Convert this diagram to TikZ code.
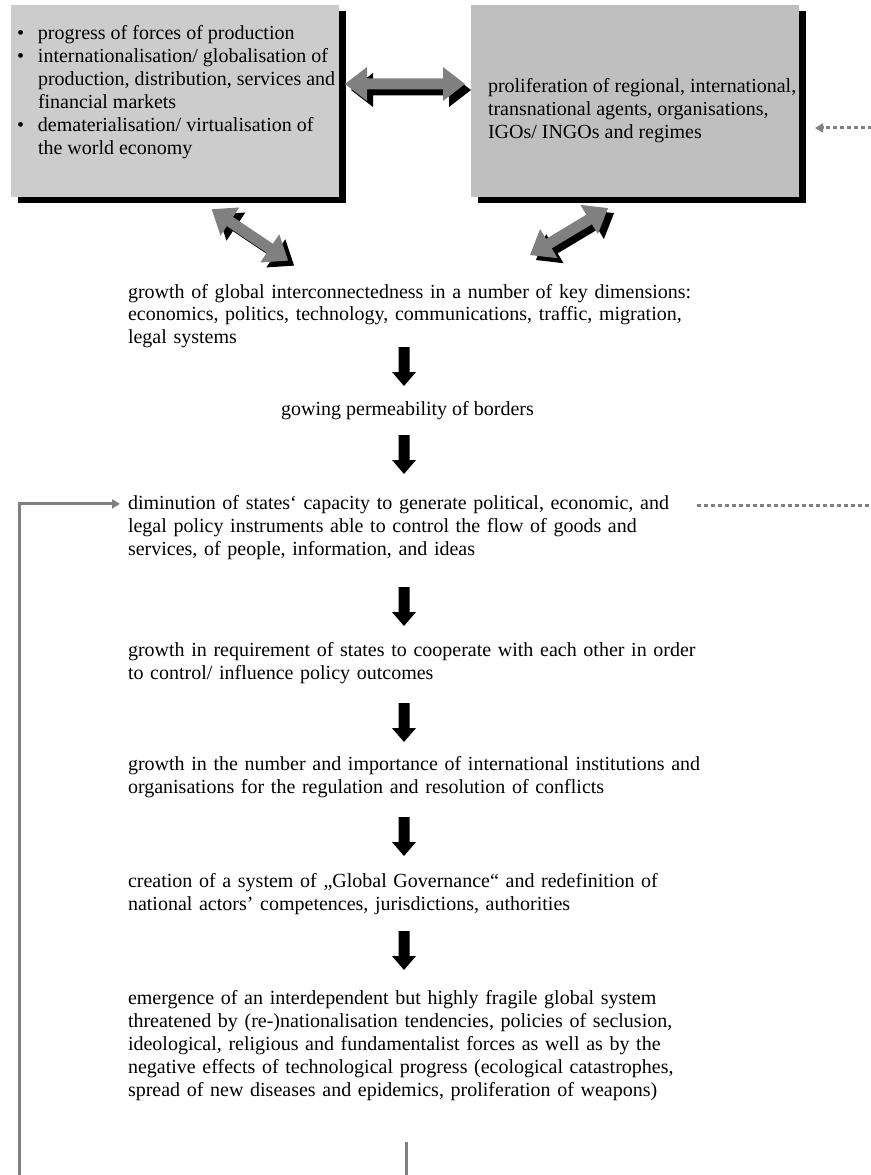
\documentclass[tikz,border=0pt]{standalone}
\usepackage{fontspec}
\setmainfont{Liberation Serif}
\usetikzlibrary{arrows.meta,calc}
\definecolor{panelA}{HTML}{CCCCCC}
\definecolor{panelB}{HTML}{BFBFBF}
\definecolor{linkgray}{HTML}{808080}
% one justified line of a paragraph block
\newcommand{\fullline}[1]{\makebox[335.4pt][s]{#1}}
\begin{document}
\begin{tikzpicture}[x=0.6pt,y=-0.6pt,
  every node/.style={inner sep=0pt,outer sep=0pt},
  txt/.style={font=\fontsize{12pt}{13.8pt}\selectfont,align=left,anchor=north west},
  para/.style={txt,text width=335.4pt},
  panel/.style={anchor=north west,minimum width=196.8pt,minimum height=115.2pt},
  loopline/.style={draw=linkgray,line width=1.8pt},
  dotline/.style={draw=linkgray,line width=1.8pt,dash pattern=on 2.4pt off 1.8pt},
  pics/dblarrow/.style={code={
    \path[pic actions] (0,0) -- (22,-17) -- (22,-5.5) -- (#1-22,-5.5) -- (#1-22,-17)
      -- (#1,0) -- (#1-22,17) -- (#1-22,5.5) -- (22,5.5) -- (22,17) -- cycle;}},
  pics/dnarrow/.style={code={
    \fill[black] (-5.5,0) -- (5.5,0) -- (5.5,25) -- (12,25) -- (0,39) -- (-12,25) -- (-5.5,25) -- cycle;}}
]
\useasboundingbox (0,0) rectangle (871,1175);

% --- the two panels with their drop shadows
\node[panel,fill=black] (p1s) at (18,11) {};
\node[panel,fill=panelA] (p1) at (11,5) {};
\node[panel,fill=black] (p2s) at (478,11) {};
\node[panel,fill=panelB] (p2) at (471,5) {};

\node[txt] (p1txt) at (17,23.9) {\strut\makebox[12.6pt][l]{•}progress of forces of production\\
\makebox[12.6pt][l]{•}internationalisation/ globalisation of\\
\makebox[12.6pt]{}production, distribution, services and\\
\makebox[12.6pt]{}financial markets\\
\makebox[12.6pt][l]{•}dematerialisation/ virtualisation of\\
\makebox[12.6pt]{}the world economy\strut};

\node[txt] (p2txt) at (488,76.9) {\strut proliferation of regional, international,\\
transnational agents, organisations,\\
IGOs/ INGOs and regimes\strut};

% --- block arrows between the panels and the first statement
\pic[fill=black] at ($(p1.east)+(12,-11)$) {dblarrow=120};
\pic[fill=linkgray] at ($(p1.east)+(6,-17)$) {dblarrow=120};
\pic[fill=black,rotate=-33.9] at ($(p1.south)+(42.7,17.3)$) {dblarrow=92};
\pic[fill=linkgray,rotate=-33.9] at ($(p1.south)+(36.7,12.3)$) {dblarrow=92};
\pic[fill=black,rotate=31] at ($(p2.south)+(-99,63)$) {dblarrow=91};
\pic[fill=linkgray,rotate=31] at ($(p2.south)+(-105,58)$) {dblarrow=91};

% incoming dotted arrow on the right of the second panel
\draw[dotline,-{Triangle[length=4.8pt,width=5.4pt]}] ($(p2.east)+(80,27)$) -- ($(p2.east)+(16,27)$);

% --- chain of statements
\node[para] (t1) at (128,281.9) {\fullline{\strut growth of global interconnectedness in a number of key dimensions:}\\
\fullline{economics, politics, technology, communications, traffic, migration,}\\
legal systems\strut};

\node[txt,anchor=north] (t2) at (407.5,398.9) {\strut gowing permeability of borders\strut};

\node[para] (t3) at (128,492.9) {\fullline{\strut diminution of states‘ capacity to generate political, economic, and}\\
\fullline{legal policy instruments able to control the flow of goods and}\\
services, of people, information, and ideas\strut};

\node[para] (t4) at (128,639.9) {\fullline{\strut growth in requirement of states to cooperate with each other in order}\\
to control/ influence policy outcomes\strut};

\node[para] (t5) at (128,753.9) {\fullline{\strut growth in the number and importance of international institutions and}\\
organisations for the regulation and resolution of conflicts\strut};

\node[para] (t6) at (128,870.9) {\fullline{\strut creation of a system of „Global Governance“ and redefinition of}\\
national actors’ competences, jurisdictions, authorities\strut};

\node[para] (t7) at (128,987.9) {\fullline{\strut emergence of an interdependent but highly fragile global system}\\
\fullline{threatened by (re-)nationalisation tendencies, policies of seclusion,}\\
\fullline{ideological, religious and fundamentalist forces as well as by the}\\
\fullline{negative effects of technological progress (ecological catastrophes,}\\
spread of new diseases and epidemics, proliferation of weapons)\strut};

% --- downward block arrows
\pic at ($(t1.south)+(-3.5,-3.9)$) {dnarrow};
\pic at ($(t2.south)+(-3.5,13.1)$) {dnarrow};
\pic at ($(t3.south)+(-3.5,25.1)$) {dnarrow};
\pic at ($(t4.south)+(-3.5,17.1)$) {dnarrow};
\pic at ($(t5.south)+(-3.5,17.1)$) {dnarrow};
\pic at ($(t6.south)+(-3.5,14.1)$) {dnarrow};

% --- feedback loop back to the diminution statement
\coordinate (loopdown) at ($(t7.south)+(-1.5,39)$);
\coordinate (loopfoot) at (19,1185);
\coordinate (loopin) at ($(t3.north west)+(-8,11)$);
\draw[loopline] (loopdown) -- ++(0,60);
\draw[loopline,-{Triangle[length=4.8pt,width=5.4pt]}] (loopfoot) |- (loopin);

% outgoing dotted line on the right of the diminution statement
\draw[dotline] ($(t3.north east)+(10,13)$) -- ++(200,0);
\end{tikzpicture}
\end{document}
